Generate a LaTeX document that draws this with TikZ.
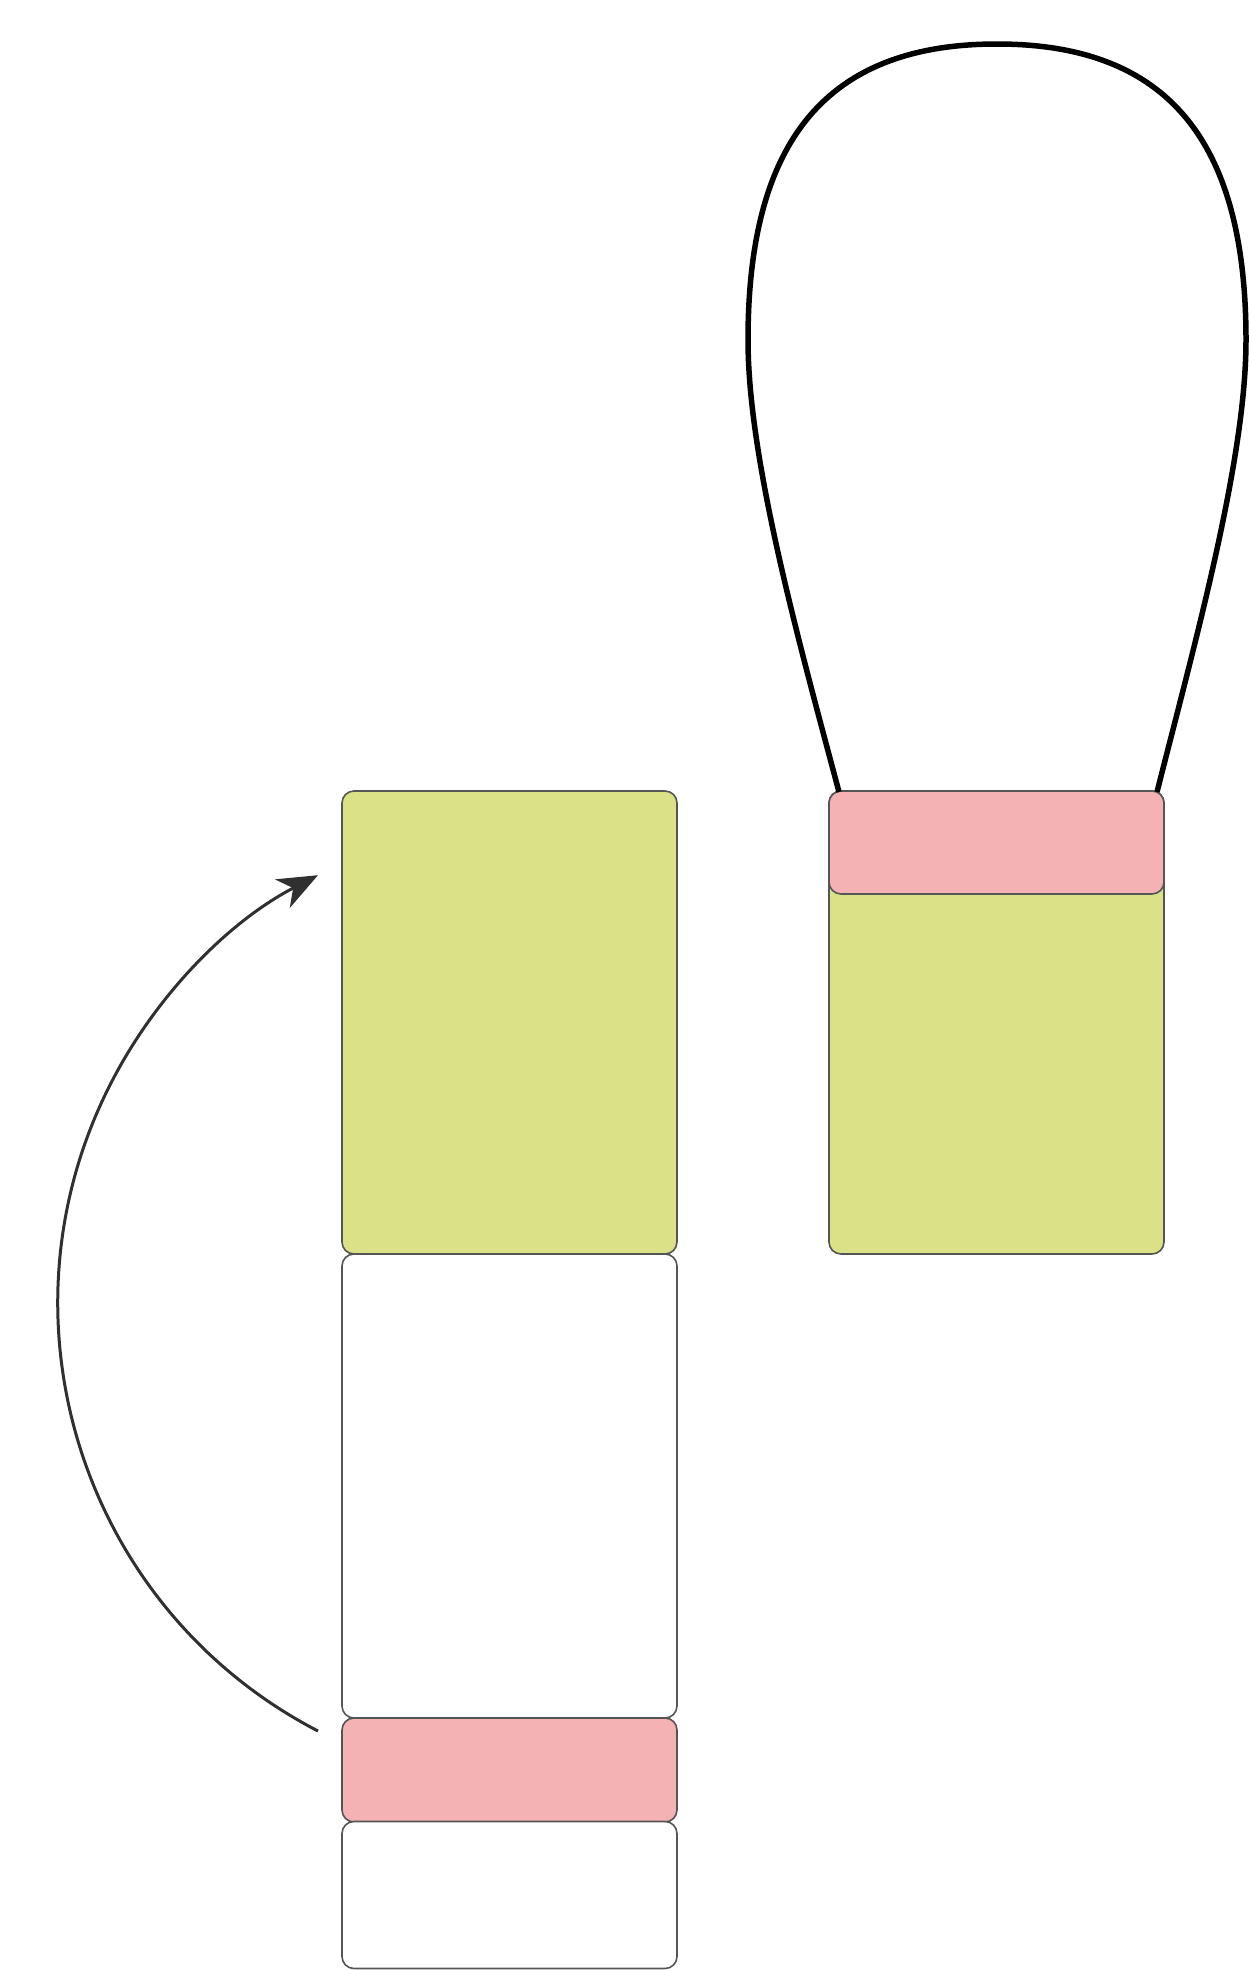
\documentclass[tikz,border=0pt]{standalone}
\usetikzlibrary{arrows.meta}
\definecolor{boxgreen}{HTML}{DBE186}
\definecolor{boxpink}{HTML}{F4B2B5}
\definecolor{boxline}{HTML}{555555}
\definecolor{arrowc}{HTML}{303030}
\begin{document}
\begin{tikzpicture}[x=1pt,y=1pt,
  blk/.style={rectangle,rounded corners=12pt,draw=boxline,line width=1.6pt,inner sep=0pt,minimum width=335pt},
  loopline/.style={line width=5.5pt,black},
  bendarrow/.style={line width=3pt,arrowc,-{Stealth[length=40pt,width=32pt,inset=12pt]}}]
\useasboundingbox (0,0) rectangle (1248,-1970);
% left column
\node[blk,fill=boxgreen,minimum height=463pt] (lg) at (509.5,-1022.5) {};
\node[blk,fill=white,minimum height=464pt] (lw) at (509.5,-1486) {};
\node[blk,fill=boxpink,minimum height=104pt] (lp) at (509.5,-1770) {};
\node[blk,fill=white,minimum height=147pt] (lb) at (509.5,-1895) {};
% right column
\node[blk,fill=boxgreen,minimum height=463pt] (rg) at (996.5,-1022.5) {};
\node[blk,fill=boxpink,minimum height=103pt] (rp) at (996.5,-842.5) {};
% loop
\coordinate (la) at (839,-792);
\coordinate (lz) at (1157,-792);
\draw[loopline] (la) .. controls (799,-642) and (748,-460) .. (748,-340)
  .. controls (748,-140) and (827,-44) .. (997,-44)
  .. controls (1167,-44) and (1246,-140) .. (1246,-340)
  .. controls (1246,-460) and (1195,-642) .. (lz);
% arrow
\coordinate (as) at (318,-1731);
\draw[bendarrow] (as) arc[start angle=242.6,end angle=117.4,radius=482pt] coordinate (ae);
\end{tikzpicture}
\end{document}
